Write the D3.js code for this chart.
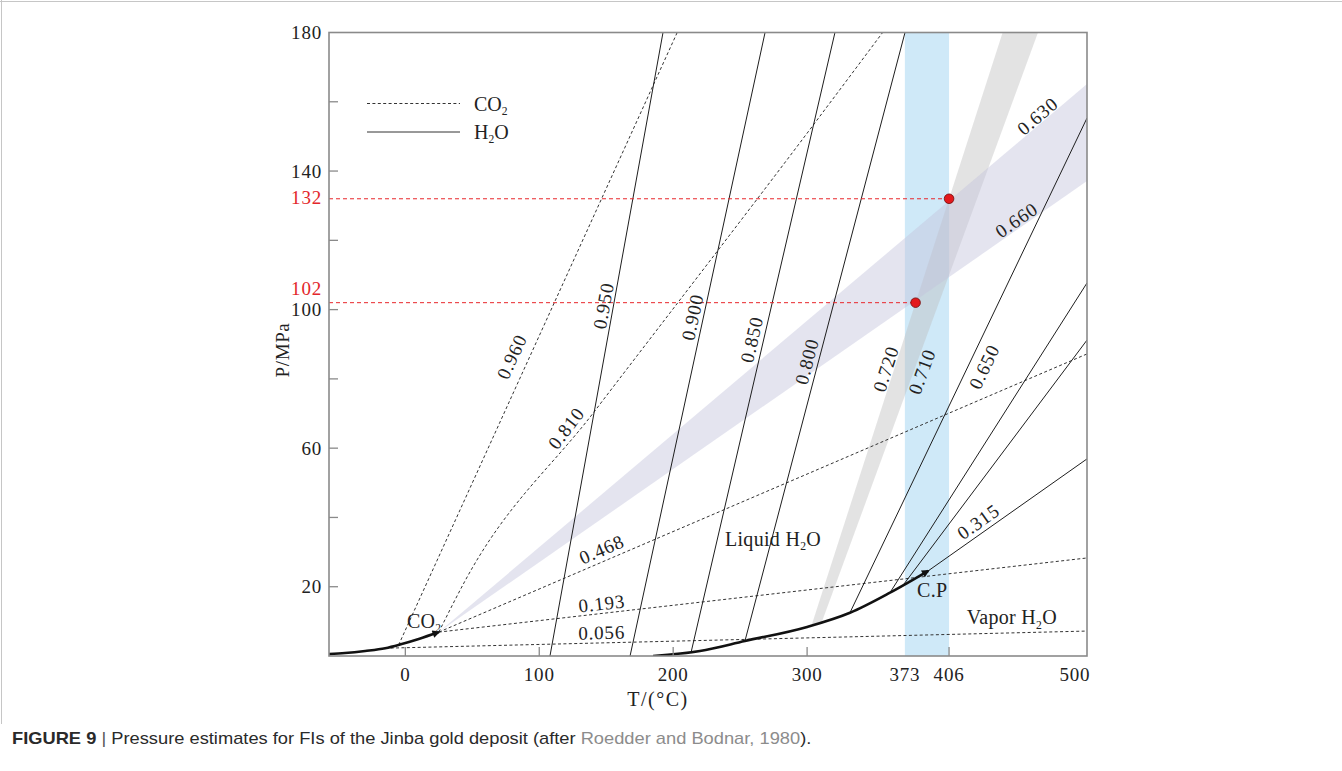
<!DOCTYPE html>
<html>
<head>
<meta charset="utf-8">
<script src="https://cdn.jsdelivr.net/npm/d3@7"></script>
<style>
  html, body { margin: 0; padding: 0; background: #fff; }
  svg { display: block; }
</style>
</head>
<body>
<svg id="chart" width="1342" height="771"></svg>
<script>
// ---- Axis ticks ----
const tempTickLabels = [0, 100, 200, 300, 373, 406, 500];
const tempTickMarks = [0, 100, 200, 300, 406];
const pressureTickMarks = [20, 40, 60, 80, 100, 120, 140, 160];
const pressureTickLabels = [20, 60, 100, 140, 180];

// ---- Homogenization range (°C) and estimated trapping pressures ----
const homogenizationRange = [373, 406];
const estimates = [
  { T: 406, P: 132 },
  { T: 381, P: 102 }
];

// ---- Liquid–vapour curves [T °C, P MPa] ----
const co2Boiling = [[-57, 0.55], [-45, 0.85], [-30, 1.45], [-15, 2.25], [-4, 3.3], [10, 4.9], [25, 6.9]];
const h2oBoiling = [[185, 0], [220, 1.45], [253.6, 4.34], [300, 8.4], [332, 12.5], [361.9, 18.3], [390.5, 24.6]];

// ---- CO2 isochores (g/cm3) ----
const co2Isochores = [
  { density: "0.960", points: [[-5, 3.2], [203, 180]], label: [79.4, 86.4] },
  { density: "0.810", points: [[25, 6.9], [44.6, 21.7], [141, 70.5], [306, 154], [356.4, 180]], label: [120.0, 65.8] },
  { density: "0.468", points: [[25, 6.9], [509, 87.2]], label: [146.6, 30.8] },
  { density: "0.193", points: [[25, 6.9], [509, 28.3]], label: [146.6, 15.2] },
  { density: "0.056", points: [[-15, 2.25], [509, 7.2]], label: [146.6, 6.8] }
];

// ---- H2O isochores (g/cm3) ----
const h2oIsochores = [
  { density: "0.950", points: [[108, 0], [192.4, 180]], label: [147.8, 101.1] },
  { density: "0.900", points: [[167.8, 0], [268.6, 180]], label: [214.3, 97.8] },
  { density: "0.850", points: [[213.3, 0.95], [320.8, 180]], label: [258.6, 91.4] },
  { density: "0.800", points: [[253.6, 4.34], [373.1, 180]], label: [299.7, 85.0] },
  { density: "0.650", points: [[332, 12.5], [509, 155.3]], label: [432.1, 83.5] },
  { density: null, points: [[361.9, 18.3], [509, 107.7]], label: null },
  { density: null, points: [[371.6, 20.4], [509, 91.2]], label: null },
  { density: "0.315", points: [[390.5, 24.6], [509, 56.9]], label: [427.8, 38.8] }
];

// ---- Fluid-inclusion density ranges ----
const h2oRange = [
  { density: "0.720", points: [[303.3, 8.8], [446, 180]], label: [358.7, 82.9] },
  { density: "0.710", points: [[311, 9.8], [472.4, 180]], label: [385.6, 82.1] }
];
const co2Range = [
  { density: "0.630", points: [[25, 6.9], [509, 165.1]], label: [472.0, 155.9] },
  { density: "0.660", points: [[25, 6.9], [509, 137.1]], label: [456.3, 125.9] }
];

// ---- Field annotations [T, P] ----
const fieldNotes = [
  { parts: [["Liquid H"], ["2", true], ["O"]], at: [238.7, 31.8] },
  { parts: [["Vapor H"], ["2", true], ["O"]], at: [419.2, 9.2] },
  { parts: [["C.P"]], at: [382.1, 17.0] },
  { parts: [["CO"], ["2", true]], at: [1.2, 8.1] }
];

// ================= drawing =================
const W = 1342, H = 771;
const SERIF = '"Liberation Serif", "Times New Roman", Times, serif';
const SANS = '"Liberation Sans", Arial, Helvetica, sans-serif';
const INK = "#222";

const x = d3.scaleLinear().domain([-57, 509]).range([329, 1087]);
const y = d3.scaleLinear().domain([0, 180]).range([656, 32.5]);
const [x0, x1] = x.range();
const [y0, y1] = y.range();

const svg = d3.select("#chart");
const defs = svg.append("defs");
defs.append("clipPath").attr("id", "plotArea")
  .append("rect").attr("x", x0).attr("y", y1).attr("width", x1 - x0).attr("height", y0 - y1);

defs.append("marker")
  .attr("id", "arrowHead")
  .attr("viewBox", "0 0 10 10")
  .attr("refX", 8).attr("refY", 5)
  .attr("markerWidth", 4.2).attr("markerHeight", 3)
  .attr("markerUnits", "strokeWidth")
  .attr("orient", "auto")
  .append("path").attr("d", "M0,0 L10,5 L0,10 Z").attr("fill", "#111");

// figure border
svg.append("line").attr("x1", 0).attr("x2", W).attr("y1", 1.5).attr("y2", 1.5)
  .attr("stroke", "#c6c6c6").attr("stroke-width", 1);
svg.append("line").attr("x1", 1.5).attr("x2", 1.5).attr("y1", 0).attr("y2", 724)
  .attr("stroke", "#c6c6c6").attr("stroke-width", 1);

const px = d => [x(d[0]), y(d[1])];
const straight = d3.line().x(d => x(d[0])).y(d => y(d[1]));
const smooth = d3.line().x(d => x(d[0])).y(d => y(d[1])).curve(d3.curveMonotoneX);

const plot = svg.append("g").attr("clip-path", "url(#plotArea)");

// shaded ranges
plot.append("rect")
  .attr("x", x(homogenizationRange[0])).attr("y", y1)
  .attr("width", x(homogenizationRange[1]) - x(homogenizationRange[0]))
  .attr("height", y0 - y1)
  .attr("fill", "#cfe9f8");

const grayPoly = [...h2oRange[0].points, ...h2oRange[1].points.slice().reverse()];
plot.append("path").attr("d", straight(grayPoly) + "Z")
  .attr("fill", "#bdbdbd").attr("fill-opacity", 0.42);

const lavPoly = [co2Range[0].points[0], co2Range[0].points[1], co2Range[1].points[1]];
plot.append("path").attr("d", straight(lavPoly) + "Z")
  .attr("fill", "#c3c3dc").attr("fill-opacity", 0.45);

// isochores
plot.append("g").selectAll("path").data(co2Isochores).join("path")
  .attr("d", d => smooth(d.points))
  .attr("fill", "none").attr("stroke", "#333").attr("stroke-width", 1)
  .attr("stroke-dasharray", "3,2.4");

plot.append("g").selectAll("path").data(h2oIsochores).join("path")
  .attr("d", d => straight(d.points))
  .attr("fill", "none").attr("stroke", "#1e1e1e").attr("stroke-width", 1);

// liquid–vapour curves with arrows at the critical points
[co2Boiling, h2oBoiling].forEach(c => {
  plot.append("path").attr("d", smooth(c))
    .attr("fill", "none").attr("stroke", "#111").attr("stroke-width", 2.6)
    .attr("stroke-linecap", "butt")
    .attr("marker-end", "url(#arrowHead)");
});

// estimated pressure guides
plot.append("g").selectAll("line").data(estimates).join("line")
  .attr("x1", x0).attr("x2", d => x(d.T))
  .attr("y1", d => y(d.P)).attr("y2", d => y(d.P))
  .attr("stroke", "#e8262b").attr("stroke-width", 1)
  .attr("stroke-dasharray", "4,3");

svg.append("g").selectAll("circle").data(estimates).join("circle")
  .attr("cx", d => x(d.T)).attr("cy", d => y(d.P)).attr("r", 4.8)
  .attr("fill", "#e3191c").attr("stroke", "#6e0b0b").attr("stroke-width", 0.8);

// frame and ticks
const axisColor = "#8a8a8a";
svg.append("rect").attr("x", x0).attr("y", y1).attr("width", x1 - x0).attr("height", y0 - y1)
  .attr("fill", "none").attr("stroke", axisColor).attr("stroke-width", 1.6);

svg.append("g").selectAll("line").data(pressureTickMarks).join("line")
  .attr("x1", x0).attr("x2", x0 + 9)
  .attr("y1", d => y(d)).attr("y2", d => y(d))
  .attr("stroke", axisColor).attr("stroke-width", 1.3);

svg.append("g").selectAll("line").data(tempTickMarks).join("line")
  .attr("x1", d => x(d)).attr("x2", d => x(d))
  .attr("y1", y0).attr("y2", y0 - 9)
  .attr("stroke", axisColor).attr("stroke-width", 1.3);

// tick labels
const tickFont = g => g.attr("font-family", SERIF).attr("font-size", 19)
  .attr("letter-spacing", "0.8px").attr("fill", INK);

svg.append("g").call(tickFont).selectAll("text").data(tempTickLabels).join("text")
  .attr("x", d => x(d)).attr("y", 681)
  .attr("text-anchor", "middle").text(d => d);

svg.append("g").call(tickFont).selectAll("text").data(pressureTickLabels).join("text")
  .attr("x", 322).attr("y", d => y(d))
  .attr("dy", "0.35em").attr("text-anchor", "end").text(d => d);

// 102 sits just above the 100 tick label
const estShift = { 132: -1, 102: -14 };
svg.append("g").call(tickFont).attr("fill", "#e3262b").selectAll("text").data(estimates).join("text")
  .attr("x", 322).attr("y", d => y(d.P) + (estShift[d.P] || 0))
  .attr("dy", "0.35em").attr("text-anchor", "end").text(d => d.P);

// axis titles
svg.append("text").attr("x", 658).attr("y", 706)
  .attr("font-family", SERIF).attr("font-size", 20).attr("letter-spacing", "1.5px")
  .attr("text-anchor", "middle").attr("fill", INK).text("T/(°C)");

svg.append("text")
  .attr("transform", "translate(289,350) rotate(-90)")
  .attr("font-family", SERIF).attr("font-size", 19).attr("letter-spacing", "0.6px")
  .attr("text-anchor", "middle").attr("fill", INK).text("P/MPa");

// rotated density labels
function screenAngle(points) {
  const a = px(points[0]), b = px(points[points.length - 1]);
  return Math.atan2(b[1] - a[1], b[0] - a[0]) * 180 / Math.PI;
}
const labelled = [...co2Isochores, ...h2oIsochores, ...h2oRange, ...co2Range].filter(d => d.label);
svg.append("g").call(tickFont).selectAll("text").data(labelled).join("text")
  .attr("transform", d => {
    const p = px(d.label);
    const pts = d.points.length > 2 ? d.points.slice(1) : d.points;
    return `translate(${p[0]},${p[1]}) rotate(${screenAngle(pts)})`;
  })
  .attr("text-anchor", "middle").attr("dy", "0.35em")
  .text(d => d.density);

// chemical formula text with subscripts
function chem(sel, parts, size) {
  parts.forEach(([t, sub], i) => {
    const prev = i > 0 && parts[i - 1][1];
    const ts = sel.append("tspan").text(t);
    if (sub) ts.attr("font-size", size * 0.58).attr("dy", size * 0.22);
    else if (prev) ts.attr("dy", -size * 0.22);
  });
}

fieldNotes.forEach(n => {
  const p = px(n.at);
  const t = svg.append("text").attr("x", p[0]).attr("y", p[1])
    .attr("font-family", SERIF).attr("font-size", 20).attr("letter-spacing", "0.3px").attr("fill", INK);
  chem(t, n.parts, 20);
});

// legend
const legend = svg.append("g");
const legendItems = [
  { parts: [["CO"], ["2", true]], dash: "3,2.4", y: 103.5 },
  { parts: [["H"], ["2", true], ["O"]], dash: null, y: 132 }
];
legendItems.forEach(it => {
  legend.append("line").attr("x1", 367).attr("x2", 460).attr("y1", it.y).attr("y2", it.y)
    .attr("stroke", "#333").attr("stroke-width", 1)
    .attr("stroke-dasharray", it.dash);
  const t = legend.append("text").attr("x", 474).attr("y", it.y + 7)
    .attr("font-family", SERIF).attr("font-size", 20).attr("fill", INK);
  chem(t, it.parts, 20);
});

// caption
const cap = svg.append("text").attr("x", 0).attr("y", 0)
  .attr("font-family", SANS).attr("font-size", 16).attr("fill", "#2a2a2a");
cap.append("tspan").attr("font-weight", "bold").text("FIGURE 9");
cap.append("tspan").attr("fill", "#555").text(" | ");
cap.append("tspan").text("Pressure estimates for FIs of the Jinba gold deposit (after ");
cap.append("tspan").attr("fill", "#8c8c8c").text("Roedder and Bodnar, 1980");
cap.append("tspan").text(").");
const capW = cap.node().getComputedTextLength();
cap.attr("transform", `translate(12,744) scale(${800 / capW},1)`);
</script>
</body>
</html>
